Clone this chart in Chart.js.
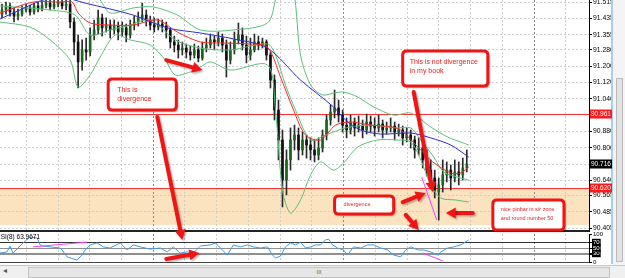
<!DOCTYPE html>
<html>
<head>
<meta charset="utf-8">
<script src="https://cdn.jsdelivr.net/npm/chart.js@4.4.0/dist/chart.umd.min.js"></script>
<style>
  html, body { margin: 0; padding: 0; background: #fff; }
  body { width: 625px; height: 278px; position: relative; overflow: hidden; font-family: 'Liberation Sans', Arial, sans-serif; }
  canvas { position: absolute; left: 0; }
  #priceChart { top: 0; }
  #rsiChart { top: 229px; }
  #overlay { top: 0; pointer-events: none; z-index: 5; }
  .vline { position: absolute; left: 611px; top: 0; width: 2px; height: 264px; background: #a8cfee; }
  .vscroll { position: absolute; left: 613px; top: 0; width: 12px; height: 265px; background: #f4f4f4; }
  .vthumb { position: absolute; left: 616px; top: 78px; width: 7px; height: 184px; background: #e2e2e2; border: 1px solid #bcbcbc; box-sizing: border-box; }
  .hscroll { position: absolute; left: 0; top: 265px; width: 625px; height: 13px; background: #f0f0f0; border-top: 1px solid #c4c4c4; box-sizing: border-box; }
  .hthumb { position: absolute; left: 28px; top: 267px; width: 582px; height: 11px; background: #e6e6e6; border: 1px solid #c2c2c2; box-sizing: border-box; font-size: 6px; line-height: 9px; text-align: center; color: #666; }
  .larrow { position: absolute; left: 3px; top: 266px; font-size: 8px; color: #555; }
</style>
</head>
<body>
<canvas id="priceChart" width="612" height="232"></canvas>
<canvas id="rsiChart" width="612" height="37"></canvas>
<div class="vline"></div>
<div class="vscroll"></div>
<div class="vthumb"></div>
<div class="hscroll"></div>
<div class="hthumb">III</div>
<div class="larrow">&#9666;</div>
<canvas id="overlay" width="625" height="278"></canvas>
<script>
const FONT = "'Liberation Sans', Arial, sans-serif";

// candles (one per bar)
const opens = [91.456, 91.476, 91.496, 91.466, 91.446, 91.456, 91.476, 91.486, 91.466, 91.496,
  91.481, 91.500, 91.510, 91.491, 91.505, 91.515, 91.496, 91.505, 91.417, 91.319,
  91.221, 91.280, 91.270, 91.353, 91.378, 91.437, 91.388, 91.402, 91.378, 91.397,
  91.368, 91.388, 91.353, 91.402, 91.417, 91.437, 91.451, 91.427, 91.402, 91.392,
  91.407, 91.397, 91.378, 91.319, 91.304, 91.280, 91.289, 91.270, 91.255, 91.280,
  91.240, 91.289, 91.304, 91.329, 91.319, 91.338, 91.304, 91.230, 91.280, 91.329,
  91.353, 91.304, 91.255, 91.280, 91.319, 91.304, 91.319, 91.255, 91.132, 90.985,
  90.838, 90.641, 90.740, 90.838, 90.862, 90.789, 90.838, 90.813, 90.789, 90.764,
  90.798, 90.862, 90.936, 90.975, 90.995, 90.960, 90.911, 90.887, 90.926, 90.897,
  90.911, 90.887, 90.926, 90.906, 90.897, 90.916, 90.887, 90.897, 90.906, 90.877,
  90.887, 90.848, 90.862, 90.838, 90.789, 90.798, 90.740, 90.690, 90.651, 90.582,
  90.617, 90.666, 90.690, 90.651, 90.681, 90.666, 90.700];
const highs = [91.505, 91.515, 91.510, 91.486, 91.481, 91.496, 91.505, 91.500, 91.510, 91.515,
  91.520, 91.535, 91.525, 91.530, 91.545, 91.540, 91.525, 91.525, 91.437, 91.353,
  91.329, 91.338, 91.388, 91.427, 91.476, 91.456, 91.437, 91.427, 91.427, 91.417,
  91.417, 91.407, 91.427, 91.446, 91.466, 91.510, 91.476, 91.446, 91.437, 91.432,
  91.427, 91.417, 91.388, 91.348, 91.329, 91.319, 91.309, 91.299, 91.309, 91.299,
  91.319, 91.338, 91.358, 91.348, 91.368, 91.358, 91.329, 91.319, 91.368, 91.412,
  91.388, 91.348, 91.338, 91.358, 91.348, 91.338, 91.329, 91.270, 91.157, 91.034,
  90.887, 90.789, 90.897, 90.911, 90.897, 90.877, 90.862, 90.848, 90.838, 90.848,
  90.887, 90.960, 91.010, 91.083, 91.034, 90.985, 90.946, 90.960, 90.946, 90.956,
  90.936, 90.965, 90.956, 90.946, 90.960, 90.936, 90.926, 90.946, 90.926, 90.916,
  90.906, 90.897, 90.887, 90.857, 90.848, 90.813, 90.789, 90.740, 90.690, 90.651,
  90.740, 90.730, 90.715, 90.740, 90.730, 90.749, 90.789];
const lows = [91.437, 91.456, 91.446, 91.417, 91.427, 91.446, 91.466, 91.451, 91.456, 91.466,
  91.471, 91.486, 91.476, 91.481, 91.491, 91.481, 91.476, 91.388, 91.255, 91.093,
  91.181, 91.230, 91.250, 91.329, 91.358, 91.348, 91.368, 91.338, 91.358, 91.329,
  91.348, 91.319, 91.338, 91.378, 91.397, 91.417, 91.397, 91.378, 91.368, 91.378,
  91.368, 91.338, 91.289, 91.270, 91.240, 91.255, 91.240, 91.230, 91.240, 91.221,
  91.230, 91.270, 91.289, 91.280, 91.299, 91.270, 91.147, 91.211, 91.260, 91.309,
  91.280, 91.216, 91.230, 91.270, 91.280, 91.289, 91.230, 91.093, 90.936, 90.740,
  90.509, 90.568, 90.690, 90.789, 90.740, 90.764, 90.749, 90.740, 90.730, 90.740,
  90.779, 90.838, 90.911, 90.946, 90.926, 90.877, 90.848, 90.867, 90.857, 90.877,
  90.848, 90.867, 90.877, 90.857, 90.877, 90.848, 90.867, 90.877, 90.838, 90.857,
  90.813, 90.828, 90.798, 90.749, 90.764, 90.700, 90.661, 90.602, 90.553, 90.445,
  90.582, 90.632, 90.592, 90.632, 90.617, 90.641, 90.681];
const closes = [91.476, 91.496, 91.466, 91.446, 91.456, 91.476, 91.486, 91.466, 91.496, 91.481,
  91.500, 91.510, 91.491, 91.505, 91.515, 91.496, 91.505, 91.417, 91.319, 91.221,
  91.280, 91.270, 91.353, 91.378, 91.437, 91.388, 91.402, 91.378, 91.397, 91.368,
  91.388, 91.353, 91.402, 91.417, 91.437, 91.451, 91.427, 91.402, 91.392, 91.407,
  91.397, 91.378, 91.319, 91.304, 91.280, 91.289, 91.270, 91.255, 91.280, 91.240,
  91.289, 91.304, 91.329, 91.319, 91.338, 91.304, 91.230, 91.280, 91.329, 91.353,
  91.304, 91.255, 91.280, 91.319, 91.304, 91.319, 91.255, 91.132, 90.985, 90.838,
  90.641, 90.740, 90.838, 90.862, 90.789, 90.838, 90.813, 90.789, 90.764, 90.798,
  90.862, 90.936, 90.975, 90.995, 90.960, 90.911, 90.887, 90.926, 90.897, 90.911,
  90.887, 90.926, 90.906, 90.897, 90.916, 90.887, 90.897, 90.906, 90.877, 90.887,
  90.848, 90.862, 90.838, 90.789, 90.798, 90.740, 90.690, 90.651, 90.592, 90.617,
  90.666, 90.690, 90.651, 90.681, 90.666, 90.700, 90.720];

// indicator lines, sampled at bar positions
const blueBars = [-0.5, 4.5, 9.5, 14.5, 20.75, 32.75, 41.25, 49.5, 57.75, 66.25, 74.5, 82.75, 85.75, 89.5, 94.5, 102, 107, 112, 116.5];
const blueVals = [91.432, 91.476, 91.520, 91.540, 91.510, 91.451, 91.388, 91.363, 91.334, 91.289, 91.132, 91.000, 90.936, 90.887, 90.867, 90.872, 90.848, 90.813, 90.754];

const redBars = [-0.5, 7.75, 14.5, 17.5, 19, 22, 27, 32.75, 38.75, 43.75, 49.5, 54.5, 62, 66.25, 69.5, 72.75, 75.75, 79.5, 83.25, 87, 92, 97, 99.5, 104.5, 107.5, 112, 114.5, 116.5];
const redVals = [91.461, 91.515, 91.515, 91.515, 91.461, 91.412, 91.402, 91.402, 91.427, 91.368, 91.319, 91.314, 91.309, 91.294, 91.147, 90.985, 90.862, 90.838, 90.911, 90.926, 90.911, 90.902, 90.887, 90.789, 90.730, 90.676, 90.676, 90.705];

const upperBars = [-0.5, 12, 18.25, 24.5, 27, 32.75, 37.75, 43.75, 49.5, 57.75, 66.25, 68.25, 70.25, 72.75, 74.5, 77, 80, 82.75, 85.25, 88.75, 92.75, 97.75, 102, 107, 111.25, 114.5, 116.5];
const upperVals = [91.574, 91.599, 91.672, 91.525, 91.461, 91.486, 91.491, 91.451, 91.378, 91.378, 91.412, 91.525, 91.672, 91.574, 91.255, 91.108, 91.059, 91.068, 91.073, 91.049, 91.000, 90.960, 90.970, 90.902, 90.852, 90.828, 90.813];

const middleBars = [-0.5, 12, 18.25, 22, 27, 32, 37, 43.25, 49.5, 57, 66.25, 68.25, 70.75, 73.25, 77, 80.75, 85.75, 92, 98.25, 102, 104.5, 107.75, 110.25, 114.5, 116.5];
const middleVals = [91.496, 91.476, 91.451, 91.353, 91.378, 91.402, 91.427, 91.329, 91.289, 91.280, 91.309, 91.255, 91.108, 90.985, 90.838, 90.862, 90.897, 90.911, 90.897, 90.897, 90.838, 90.754, 90.681, 90.651, 90.641];

const lowerBars = [-0.5, 7, 12, 17, 19, 22, 24.5, 28.25, 32, 37, 40.75, 43.25, 47, 49.5, 52, 57, 66.25, 68.25, 70, 72, 74.5, 77, 79.5, 82.75, 85.25, 88.75, 93.75, 98.25, 102, 104.5, 107, 109.5, 113.25, 116.5];
const lowerVals = [91.417, 91.392, 91.329, 91.230, 91.098, 91.157, 91.245, 91.353, 91.329, 91.304, 91.230, 91.157, 91.172, 91.196, 91.221, 91.181, 91.206, 90.985, 90.592, 90.479, 90.543, 90.666, 90.730, 90.690, 90.725, 90.803, 90.838, 90.838, 90.828, 90.740, 90.617, 90.553, 90.543, 90.533];

// RSI sub window
const rsiBars = [-0.5, 1.25, 2, 2.75, 4, 5.25, 7, 8.75, 9.5, 10.25, 12, 14.5, 15, 16.25, 18.75, 20, 20.75, 22, 23.75, 25.25,
  27, 29.5, 31.25, 32.75, 34.5, 37, 39.5, 41.25, 42.75, 44.5, 46.25, 47.75, 49.5, 52, 53.25, 54.5, 56.25, 57.75, 59.5, 61.25,
  62.75, 64.5, 66.25, 67.5, 68.25, 69.5, 70.75, 72, 73.25, 74.5, 75.75, 77, 78.25, 79.5, 80.75, 81.5, 82.5, 83.75, 85.25, 86.25,
  87.75, 89.5, 91.25, 92.75, 94.5, 96.25, 97.75, 99.5, 100.75, 102, 103.75, 105.25, 107, 108.75, 109.5, 111.25, 112.75, 114.5, 116.5];
const rsiVals = [32, 36, 57, 32, 50, 68, 89, 86, 61, 57, 54, 50, 43, 18, 7, 25, 43, 61, 68, 54,
  50, 68, 43, 61, 54, 46, 50, 36, 54, 32, 36, 32, 57, 61, 68, 50, 25, 61, 54, 61,
  54, 50, 54, 25, 14, 21, 54, 68, 61, 71, 50, 54, 61, 61, 79, 82, 61, 50, 43, 25,
  54, 50, 61, 61, 50, 43, 25, 18, 43, 54, 43, 43, 36, 25, 36, 50, 54, 61, 79];
const rsiTicks = [0, 30, 50, 70, 100];
const rsiLevels = [30, 50, 70];

// hand drawn trend lines (magenta)
const pinkPriceBars = [104.75, 108.5];
const pinkPriceVals = [90.656, 90.445];
const pinkRsiA = { bars: [7.75, 21.25], vals: [54, 71] };
const pinkRsiB = { bars: [105, 110], vals: [32, 4] };

// price axis
const priceTicks = [91.515, 91.435, 91.355, 91.280, 91.200, 91.120, 91.040, 90.961, 90.880, 90.800, 90.716, 90.640, 90.565, 90.485, 90.405];
const priceMin = 90.391, priceMax = 91.525;
const redLevels = [90.966, 90.602];
const redLabels = ['90.961', '90.620'];
const zoneTop = 90.602, zoneBottom = 90.420;
const lastPriceLabel = '90.716';

// chart layout
const barMin = -0.5, barMax = 146.5;
const gridStart = 6.07, gridStep = 7.92;
const gridBars = [];
for (let v = gridStart; v < barMax; v += gridStep) gridBars.push(v);

const bull = '#17691b', bear = '#111111', wick = '#2a2a2a';
const zip = (xs, ys) => xs.map((x, i) => ({ x, y: ys[i] }));
const upDown = ctx => closes[ctx.dataIndex] >= opens[ctx.dataIndex] ? bull : bear;

function lineSet(data, color, extra) {
  return Object.assign({ type: 'line', data, borderColor: color, borderWidth: 1, pointRadius: 0, tension: 0.3, order: 0 }, extra || {});
}

function xScale() {
  return {
    type: 'linear', min: barMin, max: barMax, offset: false,
    ticks: { display: false },
    afterBuildTicks: s => { s.ticks = gridBars.map(v => ({ value: v })); },
    afterFit: s => { s.height = 0; s.paddingLeft = 0; s.paddingRight = 0; },
    grid: {
      offset: false, drawTicks: false,
      color: ctx => (ctx.index % 6 === 4) ? '#8c8c8c' : '#cdcdcd'
    },
    border: { display: true, color: '#222', width: 2, dash: [2, 2] }
  };
}

// orange s/r zone under the grid, red levels above it
const zonePlugin = {
  id: 'zone',
  beforeDraw(chart) {
    const { ctx, chartArea: a, scales: { y } } = chart;
    const t = y.getPixelForValue(zoneTop), b = y.getPixelForValue(zoneBottom);
    ctx.save();
    ctx.fillStyle = '#fce3bf';
    ctx.fillRect(a.left, t, a.right - a.left, b - t);
    ctx.restore();
  },
  beforeDatasetsDraw(chart) {
    const { ctx, chartArea: a, scales: { y } } = chart;
    ctx.save();
    ctx.strokeStyle = '#ff3030';
    ctx.lineWidth = 1;
    redLevels.forEach(v => {
      const py = Math.round(y.getPixelForValue(v)) + 0.5;
      ctx.beginPath(); ctx.moveTo(a.left, py); ctx.lineTo(a.right, py); ctx.stroke();
    });
    ctx.restore();
  }
};

const priceChart = new Chart(document.getElementById('priceChart'), {
  type: 'bar',
  data: {
    datasets: [
      lineSet(zip(pinkPriceBars, pinkPriceVals), '#ff3cff', { tension: 0 }),
      lineSet(zip(redBars, redVals), '#ff2a2a'),
      lineSet(zip(blueBars, blueVals), '#2b2bd9'),
      lineSet(zip(upperBars, upperVals), '#5cbf78'),
      lineSet(zip(middleBars, middleVals), '#5cbf78'),
      lineSet(zip(lowerBars, lowerVals), '#5cbf78'),
      {
        type: 'bar', order: 2, grouped: false, barThickness: 1,
        data: opens.map((o, i) => ({ x: i, y: [lows[i], highs[i]] })),
        backgroundColor: wick
      },
      {
        type: 'bar', order: 1, grouped: false, barThickness: 2, minBarLength: 1,
        data: opens.map((o, i) => ({ x: i, y: [o, closes[i]] })),
        backgroundColor: upDown
      }
    ]
  },
  options: {
    responsive: false,
    animation: false,
    layout: { padding: { top: 0, bottom: 1, left: 0, right: 0 } },
    plugins: { legend: { display: false }, tooltip: { enabled: false } },
    scales: {
      x: xScale(),
      y: {
        type: 'linear', position: 'right', min: priceMin, max: priceMax,
        afterBuildTicks: s => { s.ticks = priceTicks.map(v => ({ value: v })); },
        afterFit: s => { s.width = 23; s.paddingTop = 0; s.paddingBottom = 0; },
        ticks: { autoSkip: false, padding: 1, color: '#000', font: { family: FONT, size: 6.8 }, callback: v => v.toFixed(3) },
        grid: { color: '#cdcdcd', tickColor: '#000', tickLength: 3 },
        border: { display: true, color: '#000', width: 1, dash: [2, 2] }
      }
    }
  },
  plugins: [zonePlugin]
});

const rsiChart = new Chart(document.getElementById('rsiChart'), {
  type: 'line',
  data: {
    datasets: [
      lineSet(zip(pinkRsiA.bars, pinkRsiA.vals), '#ff3cff', { tension: 0 }),
      lineSet(zip(pinkRsiB.bars, pinkRsiB.vals), '#ff3cff', { tension: 0 }),
      lineSet(zip(rsiBars, rsiVals), '#3d9be9', { tension: 0 })
    ]
  },
  options: {
    responsive: false,
    animation: false,
    layout: { padding: { top: 5, bottom: 4, left: 0, right: 0 } },
    plugins: { legend: { display: false }, tooltip: { enabled: false } },
    scales: {
      x: Object.assign(xScale(), { border: { display: true, color: '#444', width: 1, dash: [2, 2] } }),
      y: {
        type: 'linear', position: 'right', min: 0, max: 100,
        afterBuildTicks: s => { s.ticks = rsiTicks.map(v => ({ value: v })); },
        afterFit: s => { s.width = 23; s.paddingTop = 0; s.paddingBottom = 0; },
        ticks: {
          autoSkip: false, padding: 1, font: { family: FONT, size: 6 },
          color: ctx => rsiLevels.includes(ctx.tick.value) ? '#fff' : '#000',
          showLabelBackdrop: ctx => rsiLevels.includes(ctx.tick.value),
          backdropColor: '#000',
          backdropPadding: { top: 0, bottom: 0, left: 1, right: 1 },
          callback: v => String(v)
        },
        grid: {
          color: ctx => ctx.tick.value === 70 ? '#333' : (ctx.tick.value === 100 || ctx.tick.value === 0) ? 'rgba(0,0,0,0)' : '#8f8f8f',
          lineWidth: ctx => ctx.tick.value === 30 ? 2 : 1,
          tickColor: '#000', tickLength: 3
        },
        border: { display: true, color: '#000', width: 1 }
      }
    }
  }
});

// ---- notes drawn by hand on the screenshot ----
const rsiTop = 229;
const noteBoxes = [
  { from: [26.5, 91.137], to: [43.5, 90.985], lines: ['This is', 'divergence'], size: 7, padX: 9, first: 11, gap: 9 },
  { from: [100, 91.275], to: [121.25, 91.103], lines: ['This is not divergence', 'in my book'], size: 7, padX: 7, first: 11, gap: 9 },
  { from: [83, 90.563], to: [97.75, 90.474], lines: ['divergence'], size: 5.5, padX: 9, first: 9, gap: 0 },
  { from: [122.5, 90.543], to: [140.25, 90.396], lines: ['nice pinbar in s/r zone', 'and round number 50'], size: 5.5, padX: 8, first: 9, gap: 9 }
];
const arrows = [
  { from: ['p', 41, 91.230], to: ['p', 50, 91.181] },
  { from: ['p', 38.75, 90.951], to: ['r', 45, 79] },
  { from: ['r', 41, 11], to: ['r', 49.25, 32] },
  { from: ['p', 102.75, 91.073], to: ['p', 107.5, 90.582] },
  { from: ['p', 100, 90.533], to: ['p', 105.75, 90.578] },
  { from: ['p', 100.75, 90.470], to: ['p', 104, 90.396] },
  { from: ['p', 117.5, 90.479], to: ['p', 110.75, 90.479] }
];

function toPx(pt) {
  const [panel, bar, val] = pt;
  if (panel === 'p') return [priceChart.scales.x.getPixelForValue(bar), priceChart.scales.y.getPixelForValue(val)];
  return [rsiChart.scales.x.getPixelForValue(bar), rsiTop + rsiChart.scales.y.getPixelForValue(val)];
}

function roundRect(ctx, x, y, w, h, r) {
  ctx.beginPath();
  ctx.moveTo(x + r, y);
  ctx.lineTo(x + w - r, y); ctx.quadraticCurveTo(x + w, y, x + w, y + r);
  ctx.lineTo(x + w, y + h - r); ctx.quadraticCurveTo(x + w, y + h, x + w - r, y + h);
  ctx.lineTo(x + r, y + h); ctx.quadraticCurveTo(x, y + h, x, y + h - r);
  ctx.lineTo(x, y + r); ctx.quadraticCurveTo(x, y, x + r, y);
  ctx.closePath();
}

function drawArrow(ctx, x1, y1, x2, y2) {
  const ang = Math.atan2(y2 - y1, x2 - x1);
  const head = 10, w = 5.5;
  const bx = x2 - head * Math.cos(ang), by = y2 - head * Math.sin(ang);
  ctx.beginPath(); ctx.moveTo(x1, y1); ctx.lineTo(bx, by); ctx.stroke();
  ctx.beginPath();
  ctx.moveTo(x2, y2);
  ctx.lineTo(bx + w * Math.sin(ang), by - w * Math.cos(ang));
  ctx.lineTo(bx - w * Math.sin(ang), by + w * Math.cos(ang));
  ctx.closePath(); ctx.fill();
}

function drawOverlay() {
  const ctx = document.getElementById('overlay').getContext('2d');
  const y = priceChart.scales.y;

  // price tags on the axis
  ctx.font = '6.5px ' + FONT;
  ctx.textBaseline = 'middle';
  const tag = (val, text, bg) => {
    const py = Math.round(y.getPixelForValue(val));
    ctx.fillStyle = bg;
    ctx.fillRect(590, py - 4.5, 22, 9);
    ctx.fillStyle = '#fff';
    ctx.fillText(text, 591, py + 0.5);
  };
  redLevels.forEach((v, i) => tag(v, redLabels[i], '#ff1a1a'));
  tag(closes[closes.length - 1], lastPriceLabel, '#000');

  // indicator caption
  ctx.fillStyle = '#000';
  ctx.font = '6.5px ' + FONT;
  ctx.fillText('RSI(8) 63.9671', -4, 237);

  // note boxes
  noteBoxes.forEach(b => {
    const [x1, y1] = toPx(['p', b.from[0], b.from[1]]);
    const [x2, y2] = toPx(['p', b.to[0], b.to[1]]);
    ctx.save();
    ctx.shadowColor = 'rgba(0,0,0,0.35)';
    ctx.shadowOffsetX = 2; ctx.shadowOffsetY = 2; ctx.shadowBlur = 2;
    roundRect(ctx, x1, y1, x2 - x1, y2 - y1, 4);
    ctx.fillStyle = '#fff'; ctx.fill();
    ctx.restore();
    ctx.save();
    roundRect(ctx, x1, y1, x2 - x1, y2 - y1, 4);
    ctx.strokeStyle = '#f01515'; ctx.lineWidth = 3; ctx.stroke();
    ctx.fillStyle = '#e81c1c';
    ctx.font = b.size + 'px ' + FONT;
    ctx.textBaseline = 'middle';
    b.lines.forEach((t, i) => ctx.fillText(t, x1 + b.padX, y1 + b.first + i * b.gap));
    ctx.restore();
  });

  // arrows
  ctx.save();
  ctx.strokeStyle = '#f01515';
  ctx.fillStyle = '#f01515';
  ctx.lineWidth = 4;
  ctx.lineCap = 'round';
  ctx.shadowColor = 'rgba(0,0,0,0.3)';
  ctx.shadowOffsetX = 1.5; ctx.shadowOffsetY = 1.5; ctx.shadowBlur = 2;
  arrows.forEach(a => {
    const [x1, y1] = toPx(a.from);
    const [x2, y2] = toPx(a.to);
    drawArrow(ctx, x1, y1, x2, y2);
  });
  ctx.restore();
}

drawOverlay();
</script>
</body>
</html>
